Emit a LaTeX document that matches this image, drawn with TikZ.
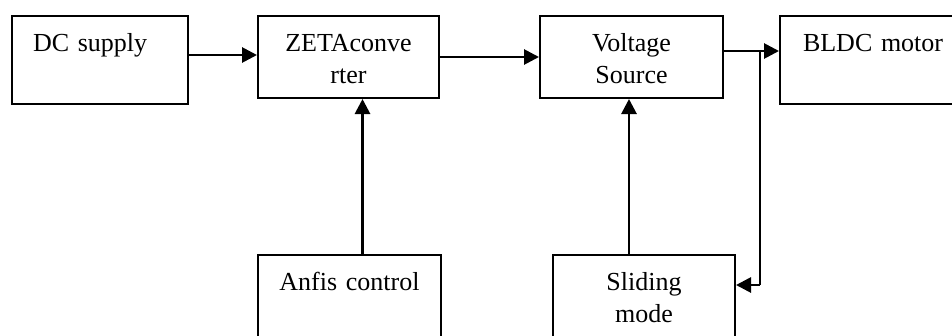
\documentclass[tikz,border=0pt]{standalone}
\usepackage{fontspec}
\setmainfont{Liberation Serif}
\usetikzlibrary{arrows.meta,positioning,calc}

\begin{document}
\begin{tikzpicture}[
    x=1pt,y=-1pt,
    box/.style={draw,line width=2pt,anchor=north west,inner xsep=10pt,inner ysep=16pt,text height=19pt,font=\fontsize{26}{32}\selectfont},
    arr/.style={-{Triangle[length=15pt,width=15pt]},line width=2.8pt}
  ]
    \useasboundingbox (0,0) rectangle (952,335);
    \node[box,inner xsep=21pt,text width=134pt,align=left,text depth=37pt] (dc) at (11,15) {DC supply};
    \node[box,text width=161pt,align=center,text depth=31pt] (zeta) at (257,15) {ZETAconve\\rter};
    \node[box,text width=163pt,align=center,text depth=31pt] (volt) at (539,15) {Voltage\\Source};
    \node[box,inner xsep=23pt,text width=170pt,align=left,text depth=37pt] (bldc) at (779,15) {BLDC motor};
    \node[box,text width=163pt,align=center,text depth=40pt] (anfis) at (257,254) {Anfis control};
    \node[box,text width=162pt,align=center,text depth=40pt] (slide) at (552,254) {Sliding\\mode};
    \coordinate (tap) at (760,51);
    \coordinate (fb) at (760,285);
    \draw[arr] ([yshift=5pt]dc.east) -- ([yshift=5pt]dc.east -| zeta.west);
    \draw[arr] (zeta.east) -- (volt.west);
    \draw[arr] (volt.east |- tap) -- (bldc.west |- tap);
    \draw[line width=2.8pt] (tap) -- (fb);
    \draw[arr] (fb) -- (fb -| slide.east);
    \draw[arr] ([xshift=13pt]anfis.north) -- ([xshift=13pt]anfis.north |- zeta.south);
    \draw[arr] ([xshift=-15pt]slide.north) -- ([xshift=-15pt]slide.north |- volt.south);
  \end{tikzpicture}
\end{document}
